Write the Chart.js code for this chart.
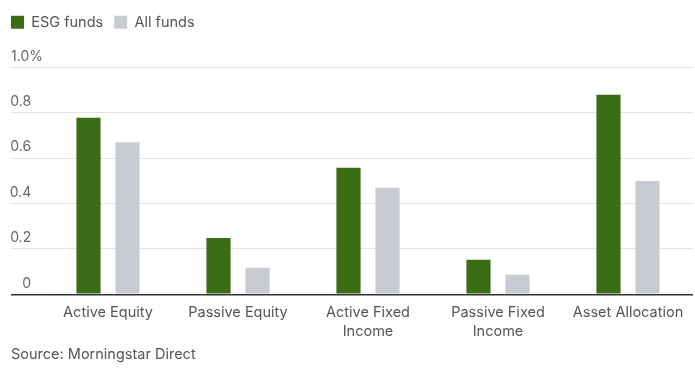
<!DOCTYPE html>
<html>
<head>
<meta charset="utf-8">
<script src="https://cdn.jsdelivr.net/npm/chart.js@4/dist/chart.umd.min.js"></script>
<style>
  html, body { margin: 0; padding: 0; background: #fff; }
  #wrap { position: relative; width: 695px; height: 372px; }
  #source {
    position: absolute; left: 11px; top: 345px;
    font: 14.5px Inter, Roboto, sans-serif; color: #555; line-height: 18px;
  }
</style>
</head>
<body>
<div id="wrap">
  <canvas id="fundsChart"></canvas>
  <div id="source"></div>
</div>
<script>
const categories = ['Active Equity', 'Passive Equity', ['Active Fixed', 'Income'], ['Passive Fixed', 'Income'], 'Asset Allocation'];
const esgValues = [0.778, 0.248, 0.558, 0.152, 0.88];
const allValues = [0.67, 0.117, 0.47, 0.086, 0.50];
const yTickLabels = ['0   ', '0.2   ', '0.4   ', '0.6   ', '0.8   ', '1.0%'];
const sourceNote = 'Source: Morningstar Direct';

const FONT = 'Inter, Roboto, sans-serif';

document.getElementById('source').textContent = sourceNote;

// push the chart area down a bit below the legend
const legendSpacer = {
    id: 'legendSpacer',
    beforeInit(chart) {
        const fit = chart.legend.fit;
        chart.legend.fit = function () {
            fit.bind(chart.legend)();
            this.height += 28;
        };
    }
};

const ctx = document.getElementById('fundsChart').getContext('2d');
const fundsChart = new Chart(ctx, {
    type: 'bar',
    data: {
        labels: categories,
        datasets: [{
            label: 'ESG funds',
            data: esgValues,
            backgroundColor: '#3b6d17',
            categoryPercentage: 0.6,
            barPercentage: 0.62
        }, {
            label: 'All funds',
            data: allValues,
            backgroundColor: '#c8cbd1',
            categoryPercentage: 0.6,
            barPercentage: 0.62
        }]
    },
    options: {
        responsive: true,
        maintainAspectRatio: false,
        animation: false,
        layout: { padding: { top: 4, left: 0, right: 2, bottom: 22 } },
        plugins: {
            legend: {
                position: 'top',
                align: 'start',
                labels: {
                    boxWidth: 13,
                    boxHeight: 13,
                    padding: 11,
                    color: '#555',
                    font: { family: FONT, size: 14.5 }
                }
            },
            tooltip: { enabled: false }
        },
        scales: {
            x: {
                grid: { display: false, drawTicks: false },
                border: { display: false },
                ticks: {
                    color: '#555',
                    padding: 9,
                    maxRotation: 0,
                    autoSkip: false,
                    font: { family: FONT, size: 14.5, lineHeight: 1.3 }
                }
            },
            y: {
                min: 0,
                max: 1,
                afterFit(scale) { scale.width = 43; },
                border: { display: false },
                grid: {
                    color: c => c.tick && c.tick.value === 0 ? '#333' : '#e3e3e3',
                    lineWidth: c => c.tick && c.tick.value === 0 ? 1.5 : 1,
                    tickLength: 32,
                    drawTicks: true
                },
                ticks: {
                    stepSize: 0.2,
                    color: '#666',
                    padding: -32,
                    labelOffset: -11,
                    font: { family: FONT, size: 14 },
                    callback: (v, i) => yTickLabels[i]
                }
            }
        }
    },
    plugins: [legendSpacer]
});
</script>
</body>
</html>
